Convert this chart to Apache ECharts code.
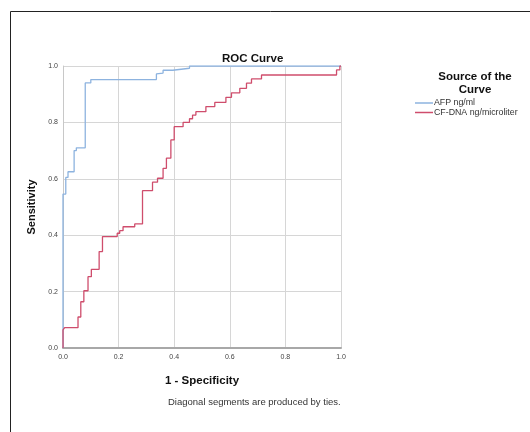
<!DOCTYPE html>
<html>
<head>
<meta charset="utf-8">
<script src="https://cdn.jsdelivr.net/npm/echarts@6/dist/echarts.min.js"></script>
<style>html,body{margin:0;padding:0;background:#fff;}#c{width:530px;height:432px;}</style>
</head>
<body>
<div id="c"></div>
<script>
const xTicks = [0, 0.2, 0.4, 0.6, 0.8, 1.0];
const yTicks = [0, 0.2, 0.4, 0.6, 0.8, 1.0];
const seriesNames = ['AFP ng/ml', 'CF-DNA ng/microliter'];
const afpFpr = [0,0,0.01,0.01,0.018,0.018,0.04,0.04,0.048,0.048,0.08,0.08,0.10,0.10,0.336,0.336,0.36,0.36,0.395,0.395,0.455,0.455,1];
const afpTpr = [0,0.546,0.546,0.605,0.605,0.625,0.625,0.70,0.70,0.71,0.71,0.94,0.94,0.952,0.952,0.972,0.975,0.985,0.985,0.992,0.992,1.0,1.0];
const dnaFpr = [0,0,0.006,0.006,0.054,0.054,0.064,0.064,0.075,0.075,0.09,0.09,0.102,0.102,0.13,0.13,0.142,0.142,0.195,0.195,0.204,0.204,0.216,0.216,0.258,0.258,0.286,0.286,0.322,0.322,0.34,0.34,0.36,0.36,0.372,0.372,0.388,0.388,0.4,0.4,0.432,0.432,0.455,0.455,0.466,0.466,0.478,0.478,0.514,0.514,0.546,0.546,0.586,0.586,0.606,0.606,0.636,0.636,0.66,0.66,0.678,0.678,0.714,0.714,0.984,0.984,0.996,0.996,1];
const dnaTpr = [0,0.064,0.064,0.072,0.072,0.11,0.11,0.164,0.164,0.203,0.203,0.253,0.253,0.279,0.279,0.342,0.342,0.395,0.395,0.407,0.407,0.416,0.416,0.43,0.43,0.44,0.44,0.558,0.558,0.588,0.588,0.602,0.602,0.637,0.637,0.673,0.673,0.738,0.738,0.785,0.785,0.80,0.80,0.813,0.813,0.826,0.826,0.838,0.838,0.856,0.856,0.871,0.871,0.889,0.889,0.905,0.905,0.921,0.921,0.939,0.939,0.954,0.954,0.968,0.968,0.986,0.986,1.0,1.0];

const zip = (a, b) => a.map((v, i) => [v, b[i]]);
const FONT = 'Liberation Sans, Arial, sans-serif';

const chart = echarts.init(document.getElementById('c'), null, {renderer: 'canvas'});
chart.setOption({
  animation: false,
  backgroundColor: '#fff',
  graphic: [{
    type: 'rect', silent: true,
    shape: {x: 10.5, y: 11.5, width: 540, height: 440},
    style: {fill: 'none', stroke: '#222', lineWidth: 1}
  }, {
    type: 'text', x: 168, y: 397,
    style: {text: 'Diagonal segments are produced by ties.', fill: '#333', font: '9.5px ' + FONT}
  }],
  title: [{
    text: 'ROC Curve', left: 217, top: 48,
    textStyle: {fontFamily: FONT, fontSize: 11.5, fontWeight: 'bold', color: '#111'}
  }, {
    text: 'Source of the\nCurve', left: 470, top: 66, textAlign: 'center',
    textStyle: {fontFamily: FONT, fontSize: 11.5, fontWeight: 'bold', color: '#111', lineHeight: 12.5}
  }],
  legend: {
    orient: 'vertical', left: 410, top: 93.5, itemGap: 0.5,
    itemWidth: 18, itemHeight: 1.5, icon: 'rect',
    textStyle: {fontFamily: FONT, fontSize: 8.8, color: '#333', padding: [0, 0, 0, -4]},
    data: seriesNames
  },
  grid: {left: 63, right: 189, top: 66, bottom: 84},
  xAxis: {
    type: 'value', min: 0, max: 1, interval: 0.2,
    name: '1 - Specificity', nameLocation: 'middle', nameGap: 27,
    nameTextStyle: {fontFamily: FONT, fontSize: 11.5, fontWeight: 'bold', color: '#111'},
    axisLine: {show: true, onZero: false, lineStyle: {color: '#a8a8a8', width: 2}},
    axisTick: {show: false},
    axisLabel: {fontFamily: FONT, fontSize: 7, color: '#444', margin: 6, formatter: v => v.toFixed(1)},
    splitLine: {show: true, lineStyle: {color: '#d6d6d6', width: 1}}
  },
  yAxis: {
    type: 'value', min: 0, max: 1, interval: 0.2,
    name: 'Sensitivity', nameLocation: 'middle', nameGap: 25,
    nameTextStyle: {fontFamily: FONT, fontSize: 11, fontWeight: 'bold', color: '#111'},
    axisLine: {show: true, lineStyle: {color: '#c8c8c8', width: 1}},
    axisTick: {show: false},
    axisLabel: {fontFamily: FONT, fontSize: 7, color: '#444', margin: 5, formatter: v => v.toFixed(1)},
    splitLine: {show: true, lineStyle: {color: '#d6d6d6', width: 1}}
  },
  series: [{
    name: seriesNames[0], type: 'line', showSymbol: false, symbol: 'none',
    data: zip(afpFpr, afpTpr),
    lineStyle: {color: '#8db3df', width: 1.3}, itemStyle: {color: '#8db3df'}
  }, {
    name: seriesNames[1], type: 'line', showSymbol: false, symbol: 'none',
    data: zip(dnaFpr, dnaTpr),
    lineStyle: {color: '#cf4d6c', width: 1.3}, itemStyle: {color: '#cf4d6c'}
  }]
});
</script>
</body>
</html>
